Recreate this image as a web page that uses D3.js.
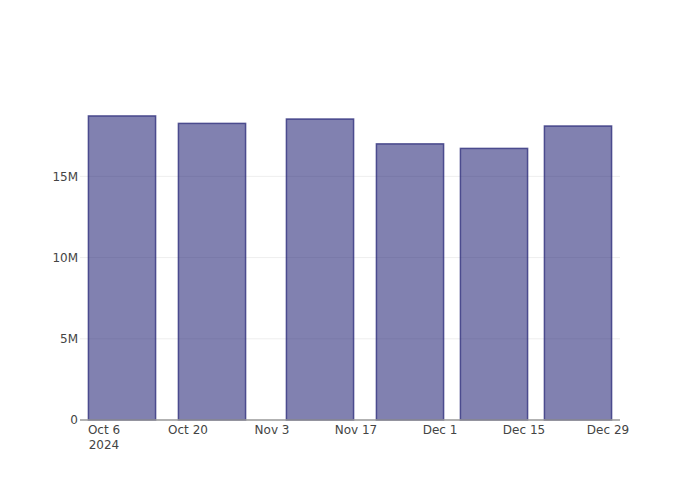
<!DOCTYPE html>
<html>
<head>
<meta charset="utf-8">
<script src="https://cdn.jsdelivr.net/npm/d3@7"></script>
<style>
  html, body { margin: 0; padding: 0; background: #fff; }
  svg text { font-family: "DejaVu Sans", Verdana, sans-serif; font-size: 12px; fill: #444; }
</style>
</head>
<body>
<div id="chart"></div>
<script>
// Data
const dates = ["2024-10-09", "2024-10-24", "2024-11-11", "2024-11-26", "2024-12-10", "2024-12-24"];
const values = [18720000, 18260000, 18530000, 17000000, 16720000, 18100000];
const xTickDates = ["2024-10-06", "2024-10-20", "2024-11-03", "2024-11-17", "2024-12-01", "2024-12-15", "2024-12-29"];
const xTickLabels = ["Oct 6", "Oct 20", "Nov 3", "Nov 17", "Dec 1", "Dec 15", "Dec 29"];
const yTicks = [0, 5000000, 10000000, 15000000];
const yTickLabels = ["0", "5M", "10M", "15M"];
const xRange = ["2024-10-02", "2024-12-31"];
const yMax = 19700000;

const W = 700, H = 500;
const margin = { top: 100, right: 80, bottom: 80, left: 80 };
const parse = d3.utcParse("%Y-%m-%d");

const svg = d3.select("#chart").append("svg")
  .attr("width", W).attr("height", H);

const x = d3.scaleUtc()
  .domain(xRange.map(parse))
  .range([margin.left, W - margin.right]);
const y = d3.scaleLinear()
  .domain([0, yMax])
  .range([H - margin.bottom, margin.top]);

// gridlines
svg.append("g").selectAll("line")
  .data(yTicks.filter(d => d > 0))
  .join("line")
  .attr("x1", margin.left).attr("x2", W - margin.right)
  .attr("y1", d => y(d)).attr("y2", d => y(d))
  .attr("stroke", "#eeeeee").attr("stroke-width", 1);

// bars
const parsed = dates.map(parse);
const gaps = d3.pairs(parsed).map(([a, b]) => b - a);
const barMs = d3.min(gaps) * 0.8;
svg.append("g").selectAll("rect")
  .data(parsed.map((d, i) => ({ d, v: values[i] })))
  .join("rect")
  .attr("x", p => x(new Date(+p.d - barMs / 2)))
  .attr("width", p => x(new Date(+p.d + barMs / 2)) - x(new Date(+p.d - barMs / 2)))
  .attr("y", p => y(p.v))
  .attr("height", p => y(0) - y(p.v))
  .attr("fill", "rgba(25,25,112,0.55)")
  .attr("stroke", "rgba(40,40,120,0.75)")
  .attr("stroke-width", 1.5);

// x axis line
svg.append("line")
  .attr("x1", margin.left).attr("x2", W - margin.right)
  .attr("y1", y(0)).attr("y2", y(0))
  .attr("stroke", "#999").attr("stroke-width", 1.5);

// x tick labels
const xt = svg.append("g").selectAll("text")
  .data(xTickDates.map((d, i) => ({ d: parse(d), l: xTickLabels[i], i })))
  .join("text")
  .attr("x", p => x(p.d))
  .attr("y", y(0) + 14)
  .attr("text-anchor", "middle");
xt.append("tspan").attr("x", p => x(p.d)).text(p => p.l);
xt.filter(p => p.i === 0).append("tspan")
  .attr("x", p => x(p.d)).attr("dy", 15).text("2024");

// y tick labels
svg.append("g").selectAll("text")
  .data(yTicks.map((v, i) => ({ v, l: yTickLabels[i] })))
  .join("text")
  .attr("x", margin.left - 2)
  .attr("y", p => y(p.v))
  .attr("dy", "0.36em")
  .attr("text-anchor", "end")
  .text(p => p.l);
</script>
</body>
</html>
